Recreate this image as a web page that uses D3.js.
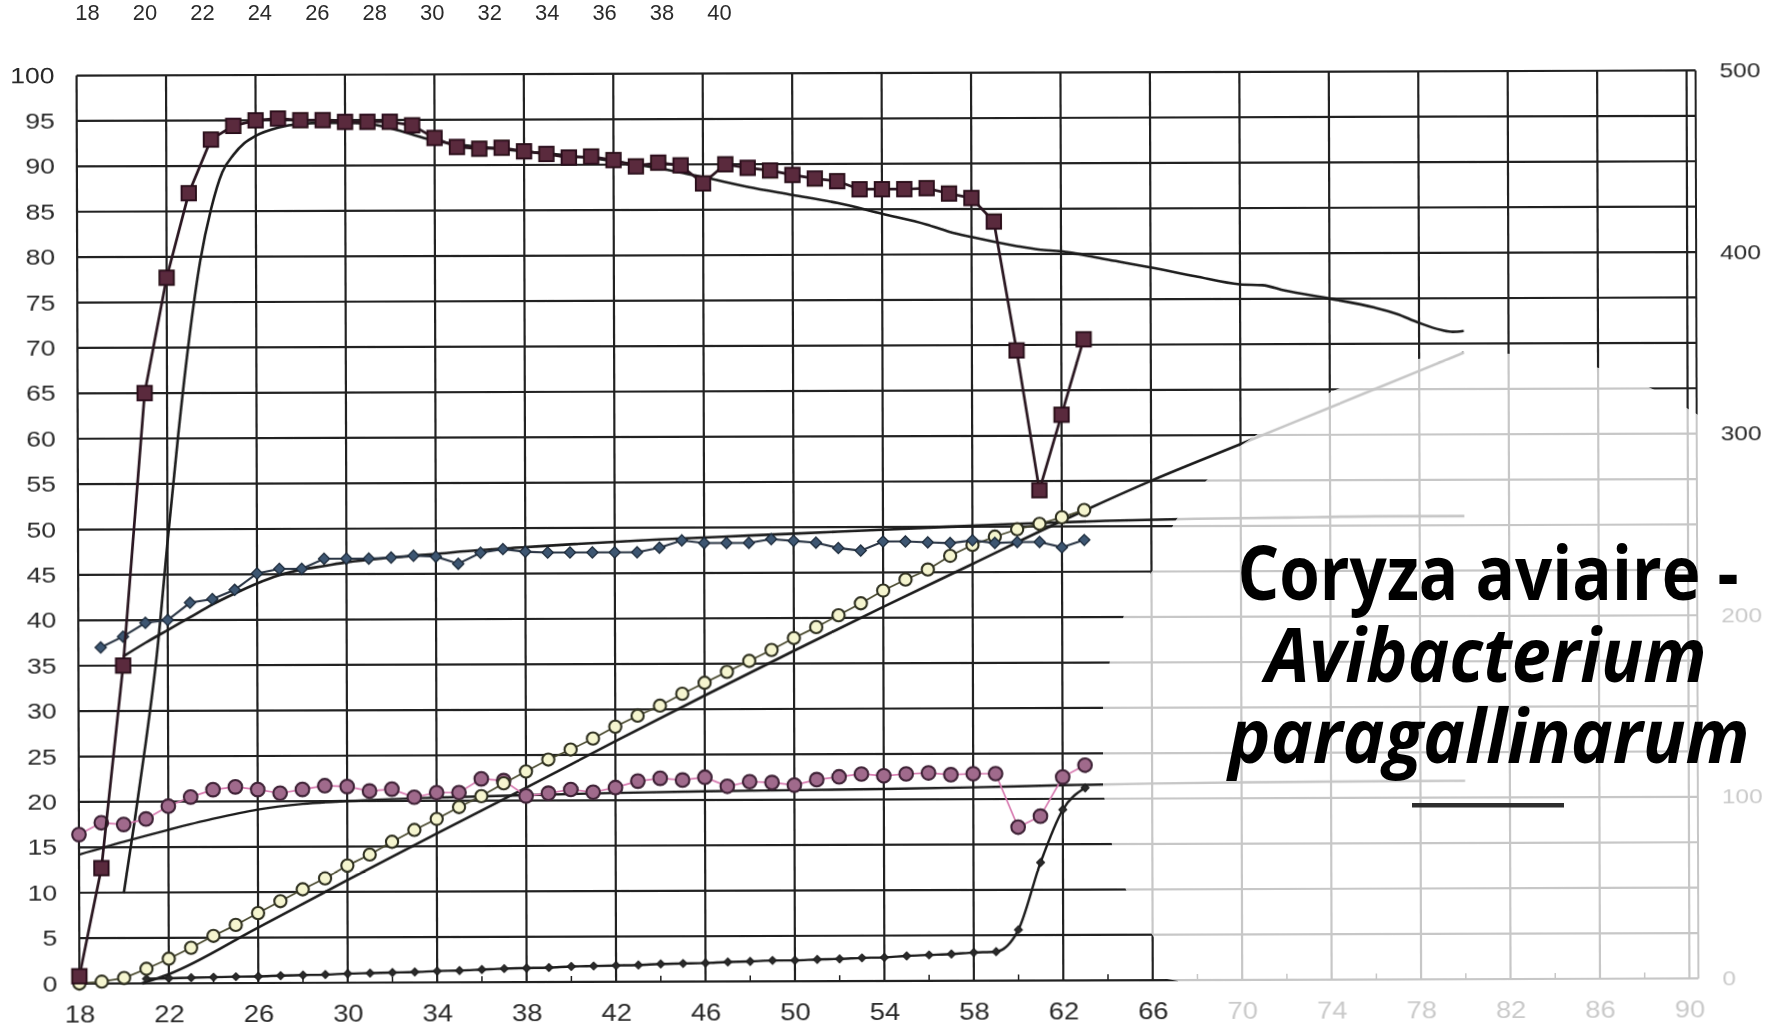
<!DOCTYPE html>
<html>
<head>
<meta charset="utf-8">
<script src="https://cdn.jsdelivr.net/npm/d3@7"></script>
<style>
  html, body { margin: 0; padding: 0; background: #fff; }
  svg { display: block; }
</style>
</head>
<body>
<svg id="chart" width="1771" height="1026"></svg>
<script>
// ---- axis ticks ----
const topTicks   = d3.range(18, 41, 2);        // week row printed above the grid
const weekTicks  = d3.range(18, 91, 4);        // age in weeks
const minorTicks = d3.range(20, 90, 4);
const pctTicks   = d3.range(0, 101, 5);        // left axis (%)
const eggTicks   = d3.range(0, 501, 100);      // right axis (eggs per hen)

// ---- laying rate (%), weeks 18-63 ----
const layWeeks = d3.range(18, 64);
const layRate = [0.8, 12.7, 35.0, 65.0, 77.7, 87.0, 92.9, 94.4, 95.0, 95.2,
                 95.0, 95.0, 94.8, 94.8, 94.8, 94.4, 93.0, 92.0, 91.8, 91.9,
                 91.5, 91.2, 90.8, 90.9, 90.5, 89.8, 90.2, 89.9, 87.9, 90.0,
                 89.6, 89.3, 88.8, 88.4, 88.1, 87.2, 87.2, 87.2, 87.3, 86.7,
                 86.2, 83.6, 69.4, 54.0, 62.3, 70.6];

// ---- laying rate standard ----
const layStdWeeks = [20, 20.5, 21, 21.5, 22, 22.5, 23, 23.5, 24, 24.5, 25, 25.5, 26, 27, 28, 29, 30,
                     31, 32, 33, 34, 35, 36, 38, 40, 42, 44, 46, 48, 50, 52, 54, 56, 57, 58, 60,
                     61, 62, 64, 66, 68, 70, 71, 72, 74, 76, 77, 78, 79, 79.5, 80];
const layStdRate  = [10, 18, 26.5, 36, 48.5, 60.5, 71, 79.5, 85.3, 89.3, 91.2, 92.5, 93.3, 94.2, 94.6, 94.7, 94.7,
                     94.6, 94.1, 93.4, 92.7, 92.3, 92.0, 91.5, 91.0, 90.4, 89.6, 88.6, 87.5, 86.6, 85.7, 84.5, 83.3, 82.5, 81.9, 80.9,
                     80.5, 80.3, 79.4, 78.5, 77.5, 76.6, 76.5, 75.9, 75.0, 74.0, 73.3, 72.3, 71.5, 71.3, 71.4];

// ---- body weight (left scale), weeks 19-63 ----
const weightWeeks = d3.range(19, 64);
const weight = [37.0, 38.2, 39.7, 40.0, 41.9, 42.3, 43.3, 45.1, 45.6, 45.6,
                46.7, 46.7, 46.7, 46.8, 47.0, 46.9, 46.1, 47.3, 47.7, 47.4,
                47.3, 47.3, 47.3, 47.3, 47.3, 47.8, 48.6, 48.3, 48.3, 48.3,
                48.7, 48.5, 48.3, 47.7, 47.4, 48.4, 48.4, 48.3, 48.2, 48.5,
                48.2, 48.3, 48.3, 47.7, 48.5];
const weightStdWeeks = [20, 21, 22, 23, 24, 25, 26, 27, 28, 29, 30, 32, 34, 36, 38, 40, 44, 48, 52, 56, 60, 64, 68, 72, 76, 80];
const weightStd      = [36.0, 37.5, 38.9, 40.3, 41.7, 42.9, 44.0, 44.9, 45.5, 45.9, 46.3, 46.8, 47.2, 47.6, 47.9, 48.2,
                        48.7, 49.1, 49.5, 49.9, 50.3, 50.6, 50.8, 50.9, 51.0, 51.0];

// ---- egg weight (left scale), weeks 18-63 ----
const eggWtWeeks = d3.range(18, 64);
const eggWeight = [16.4, 17.7, 17.5, 18.1, 19.5, 20.5, 21.3, 21.6, 21.3, 20.9,
                   21.3, 21.7, 21.6, 21.1, 21.3, 20.4, 20.9, 20.9, 22.4, 22.2,
                   20.5, 20.8, 21.2, 20.9, 21.4, 22.1, 22.4, 22.2, 22.5, 21.5,
                   22.0, 21.9, 21.6, 22.2, 22.5, 22.8, 22.6, 22.8, 22.9, 22.7,
                   22.8, 22.8, 16.9, 18.1, 22.4, 23.7];
const eggWtStdWeeks = [18, 20, 22, 24, 26, 28, 30, 32, 34, 38, 42, 46, 50, 54, 58, 62, 66, 70, 74, 80];
const eggWtStd      = [14.2, 15.6, 16.9, 18.1, 19.1, 19.7, 20.0, 20.2, 20.35, 20.6, 20.8, 20.95, 21.05,
                       21.15, 21.3, 21.5, 21.65, 21.75, 21.8, 21.85];

// ---- cumulative eggs per hen (right scale), weeks 18-63 ----
const cumWeeks = d3.range(18, 64);
const cumEggs = [0, 1, 3, 8, 13.5, 19.5, 26, 32, 38.5, 45,
                 51.5, 57.5, 64.5, 70.5, 77.5, 84, 90, 96.5, 102.5, 109.5,
                 116, 122.5, 128, 134, 140.5, 146.5, 152, 158.5, 164.5, 170.5,
                 176.5, 182.5, 189, 195, 201.5, 208, 215, 221, 226.5, 234,
                 240, 244.5, 248.5, 251.5, 255, 259];
const cumStdWeeks = [20.8, 22, 26, 30, 34, 38, 42, 46, 50, 54, 58, 62, 66, 70, 74, 78, 80];
const cumStdEggs  = [0, 5, 30.5, 56.5, 82, 107, 132.5, 157.5, 182, 206, 229.5, 253, 275, 295, 315, 335, 345];

// ---- cumulative mortality (%), weeks 21-63 ----
const mortWeeks = d3.range(21, 64);
const mortality = [0.5, 0.55, 0.6, 0.65, 0.7, 0.72, 0.8, 0.85, 0.9, 1.0,
                   1.05, 1.1, 1.15, 1.25, 1.3, 1.4, 1.5, 1.55, 1.6, 1.7,
                   1.75, 1.8, 1.85, 1.95, 2.0, 2.05, 2.15, 2.2, 2.3, 2.3,
                   2.4, 2.45, 2.55, 2.6, 2.75, 2.85, 2.95, 3.1, 3.2, 5.6,
                   13.0, 18.8, 21.2];

const titleLines = ["Coryza aviaire -", "Avibacterium", "paragallinarum"];

// ---------------------------------------------------------------
const svg = d3.select("#chart");
svg.append("rect").attr("width", 1771).attr("height", 1026).attr("fill", "#fff");

const x = d3.scaleLinear().domain([18, 90]).range([78, 1688]);
const y = d3.scaleLinear().domain([0, 100]).range([981, 73]);
const yEggs = d3.scaleLinear().domain([0, 500]).range([981, 73]);
const xTop = d3.scaleLinear().domain([18, 40]).range([87, 719]);

const defs = svg.append("defs");
defs.append("filter").attr("id", "soft")
  .attr("x", "-2%").attr("y", "-2%").attr("width", "104%").attr("height", "104%")
  .append("feGaussianBlur").attr("stdDeviation", 0.6);

const chart = svg.append("g").attr("filter", "url(#soft)");
// the printed sheet sits very slightly askew
const plot = chart.append("g").attr("transform", "rotate(-0.18 883 527)");

const gridColor = "#242424";
const font = "'Liberation Sans', Arial, sans-serif";

// grid
const grid = plot.append("g");
grid.selectAll("line.h").data(pctTicks).join("line").attr("class", "h")
  .attr("x1", x(18)).attr("x2", x(90) + 9)
  .attr("y1", d => y(d)).attr("y2", d => y(d))
  .attr("stroke", gridColor).attr("stroke-width", 2.2);
grid.selectAll("line.v").data(weekTicks).join("line").attr("class", "v")
  .attr("x1", d => x(d)).attr("x2", d => x(d))
  .attr("y1", y(0)).attr("y2", y(100))
  .attr("stroke", gridColor).attr("stroke-width", 2.2);
grid.append("line")
  .attr("x1", x(90) + 9).attr("x2", x(90) + 9)
  .attr("y1", y(0)).attr("y2", y(100))
  .attr("stroke", gridColor).attr("stroke-width", 2);
grid.selectAll("line.m").data(minorTicks).join("line").attr("class", "m")
  .attr("x1", d => x(d)).attr("x2", d => x(d))
  .attr("y1", y(0)).attr("y2", y(0) - 6)
  .attr("stroke", gridColor).attr("stroke-width", 1.5);

// axes (labels only); the scanned digits are a little wider than the font
function styleAxis(size, perDigit) {
  return g => {
    g.select(".domain").remove();
    g.selectAll("text")
      .attr("font-family", font).attr("font-size", size).attr("fill", "#2a2a2a")
      .each(function () {
        if (perDigit) {
          const t = d3.select(this);
          t.attr("textLength", t.text().length * perDigit).attr("lengthAdjust", "spacingAndGlyphs");
        }
      });
  };
}
plot.append("g").attr("transform", `translate(${x(18)},0)`)
  .call(d3.axisLeft(y).tickValues(pctTicks).tickSize(0).tickPadding(22))
  .call(styleAxis(22, 14.8));
plot.append("g").attr("transform", `translate(0,${y(0)})`)
  .call(d3.axisBottom(x).tickValues(weekTicks).tickSize(0).tickPadding(22))
  .call(styleAxis(23.5, 15.2));
plot.append("g").attr("transform", `translate(${x(90)},0)`)
  .call(d3.axisRight(yEggs).tickValues(eggTicks).tickSize(0).tickPadding(33))
  .call(styleAxis(20.5, 13.6));
chart.append("g").attr("transform", "translate(0,20)")
  .call(d3.axisTop(xTop).tickValues(topTicks).tickSize(0).tickPadding(0))
  .call(styleAxis(21.5, 12.2));

// line helpers
const smooth = (xs, ys, sy) => d3.line().curve(d3.curveMonotoneX)
  .x((d, i) => x(xs[i])).y(d => sy(d))(ys);
const straight = (xs, ys, sy) => d3.line()
  .x((d, i) => x(xs[i])).y(d => sy(d))(ys);

const stdColor = "#1d1d1d";

// standards
plot.append("path").attr("d", smooth(layStdWeeks, layStdRate, y))
  .attr("fill", "none").attr("stroke", stdColor).attr("stroke-width", 2.6);
plot.append("path").attr("d", smooth(weightStdWeeks, weightStd, y))
  .attr("fill", "none").attr("stroke", stdColor).attr("stroke-width", 2.6);
plot.append("path").attr("d", smooth(eggWtStdWeeks, eggWtStd, y))
  .attr("fill", "none").attr("stroke", stdColor).attr("stroke-width", 2.4);
plot.append("path").attr("d", smooth(cumStdWeeks, cumStdEggs, yEggs))
  .attr("fill", "none").attr("stroke", stdColor).attr("stroke-width", 2.6);

// mortality
plot.append("path").attr("d", smooth(mortWeeks, mortality, y))
  .attr("fill", "none").attr("stroke", "#1e1e1e").attr("stroke-width", 2.4);
plot.append("g").selectAll("path").data(mortality).join("path")
  .attr("d", d3.symbol(d3.symbolSquare, 32)())
  .attr("transform", (d, i) => `translate(${x(mortWeeks[i])},${y(d)}) rotate(45)`)
  .attr("fill", "#2a2a2a").attr("stroke", "#1a1a1a").attr("stroke-width", 1);

// egg weight
plot.append("path").attr("d", straight(eggWtWeeks, eggWeight, y))
  .attr("fill", "none").attr("stroke", "#d77ab0").attr("stroke-width", 1.7);
plot.append("g").selectAll("circle").data(eggWeight).join("circle")
  .attr("cx", (d, i) => x(eggWtWeeks[i])).attr("cy", d => y(d)).attr("r", 6.8)
  .attr("fill", "#a06a8c").attr("stroke", "#3e2236").attr("stroke-width", 2.1);

// cumulative eggs
plot.append("path").attr("d", straight(cumWeeks, cumEggs, yEggs))
  .attr("fill", "none").attr("stroke", "#4b4b30").attr("stroke-width", 1.7);
plot.append("g").selectAll("circle").data(cumEggs).join("circle")
  .attr("cx", (d, i) => x(cumWeeks[i])).attr("cy", d => yEggs(d)).attr("r", 6.1)
  .attr("fill", "#f5f5cf").attr("stroke", "#2f3020").attr("stroke-width", 2.1);

// body weight
plot.append("path").attr("d", straight(weightWeeks, weight, y))
  .attr("fill", "none").attr("stroke", "#2b3645").attr("stroke-width", 2.1);
plot.append("g").selectAll("path").data(weight).join("path")
  .attr("d", d3.symbol(d3.symbolSquare, 62)())
  .attr("transform", (d, i) => `translate(${x(weightWeeks[i])},${y(d)}) rotate(45)`)
  .attr("fill", "#3d5672").attr("stroke", "#1c2a3a").attr("stroke-width", 1.3);

// laying rate
plot.append("path").attr("d", straight(layWeeks, layRate, y))
  .attr("fill", "none").attr("stroke", "#2a1820").attr("stroke-width", 2.7);
plot.append("g").selectAll("rect").data(layRate).join("rect")
  .attr("x", (d, i) => x(layWeeks[i]) - 7.2).attr("y", d => y(d) - 7.2)
  .attr("width", 14.4).attr("height", 14.4)
  .attr("fill", "#5a2a3e").attr("stroke", "#2a0f1a").attr("stroke-width", 1.9);

// pale cover over the lower-right part of the sheet
const maskOutline = [
  [1240, 446], [1290, 412], [1333, 391], [1400, 362], [1460, 352], [1515, 354],
  [1580, 362], [1630, 378], [1665, 395], [1700, 416], [1712, 418], [1712, 455],
  [1771, 455], [1771, 1026], [1182, 1026], [1178, 981], [1156, 977], [1156, 940],
  [1146, 926], [1126, 890], [1112, 845], [1103, 790], [1103, 705], [1110, 660],
  [1124, 615], [1140, 588], [1153, 570], [1164, 542], [1176, 520], [1205, 482]
];
svg.append("path")
  .attr("d", d3.line().curve(d3.curveLinearClosed)(maskOutline))
  .attr("fill", "#fff").attr("fill-opacity", 0.75);

// title
const title = svg.append("g")
  .attr("font-family", "'Open Sans', 'Noto Sans', sans-serif")
  .attr("font-weight", 700).attr("font-size", 76).attr("fill", "#000")
  .attr("text-anchor", "middle");
const titleLayout = [
  { cx: 1488, base: 600, len: 501, italic: false },
  { cx: 1486, base: 682, len: 441, italic: true },
  { cx: 1489, base: 763, len: 521, italic: true }
];
title.selectAll("text").data(titleLines).join("text")
  .attr("x", (d, i) => titleLayout[i].cx)
  .attr("y", (d, i) => titleLayout[i].base)
  .attr("font-style", (d, i) => titleLayout[i].italic ? "italic" : "normal")
  .attr("textLength", (d, i) => titleLayout[i].len)
  .attr("lengthAdjust", "spacingAndGlyphs")
  .text(d => d);
svg.append("rect").attr("x", 1412).attr("y", 803).attr("width", 152).attr("height", 4.5)
  .attr("fill", "#2e2e2e");
</script>
</body>
</html>
